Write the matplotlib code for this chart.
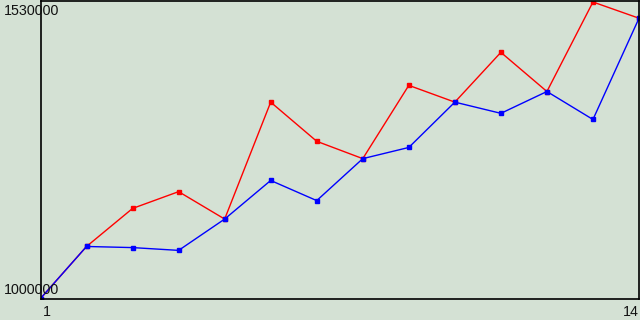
import matplotlib
matplotlib.use("Agg")
import matplotlib.pyplot as plt
from matplotlib.transforms import blended_transform_factory

x = list(range(1, 15))
red = [1000000, 1093000, 1161000, 1191000, 1142000, 1351000, 1281000,
       1250000, 1381000, 1351000, 1440000, 1370000, 1530000, 1501000]
blue = [1000000, 1093000, 1091000, 1086000, 1142000, 1211000, 1175000,
        1250000, 1270000, 1351000, 1331000, 1370000, 1320000, 1501000]
y_labels = ["1000000", "1530000"]
x_labels = ["1", "14"]

bg = "#d4e1d4"
W, H = 640, 320
fig = plt.figure(figsize=(W / 100, H / 100), dpi=100, facecolor=bg)
ax = fig.add_axes([40.5 / W, (H - 298.5) / H, (639 - 40.5) / W, 298 / H])
ax.set_facecolor(bg)

ax.plot(x, red, color="#ff0000", lw=1, marker="s", ms=2.6, mec="#ff0000", mfc="#ff0000")
ax.plot(x, blue, color="#0000ff", lw=1, marker="s", ms=2.6, mec="#0000ff", mfc="#0000ff")

ymin, ymax = 1000000, 1530000
span = ymax - ymin
ax.set_xlim(1, 14)
ax.set_ylim(ymin, ymax + span * 1.5 / 296)
ax.set_xticks([])
ax.set_yticks([])
for s in ax.spines.values():
    s.set_color("black")
    s.set_linewidth(1.2)

font = dict(family="Liberation Sans", fontsize=10.3, color="#111111")
tr = blended_transform_factory(fig.transFigure, ax.transData)
ax.text(4 / W, ymin + span * 1.8 / 296, y_labels[0], transform=tr, ha="left", va="bottom", clip_on=False, **font)
ax.text(4 / W, ymax - span * 2.2 / 296, y_labels[1], transform=tr, ha="left", va="top", clip_on=False, **font)

trx = blended_transform_factory(ax.transData, fig.transFigure)
ax.text(x[0] + 0.06, (H - 305) / H, x_labels[0], transform=trx, ha="left", va="top", clip_on=False, **font)
ax.text(x[-1], (H - 305) / H, x_labels[1], transform=trx, ha="right", va="top", clip_on=False, **font)

fig.savefig("out.png", dpi=100, facecolor=bg)
